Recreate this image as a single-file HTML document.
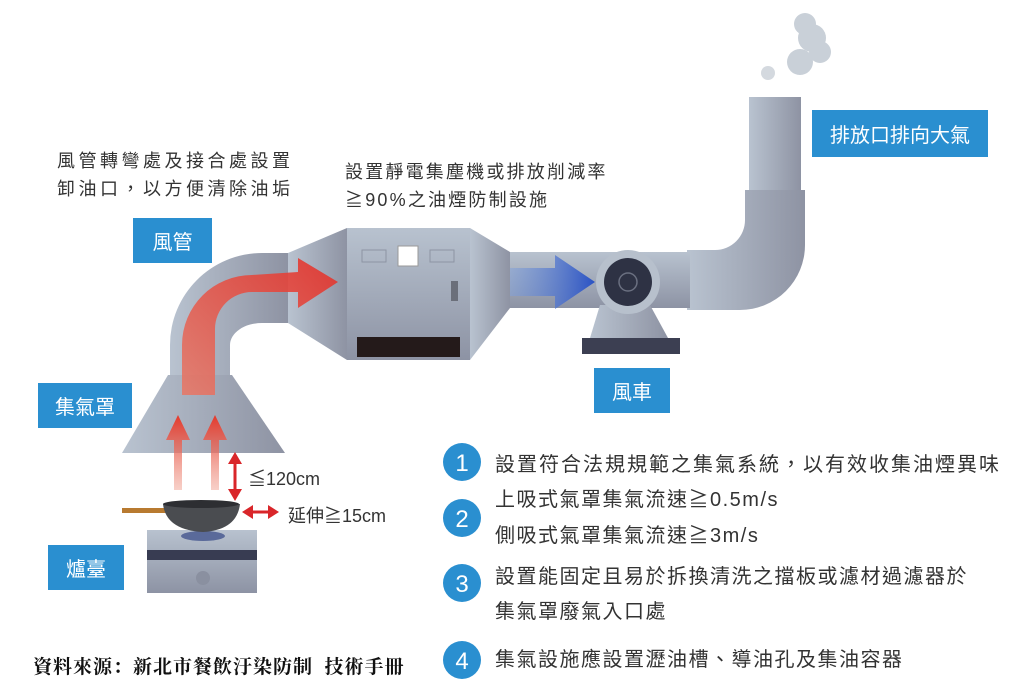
<!DOCTYPE html>
<html><head><meta charset="utf-8"><style>
body{margin:0;width:1026px;height:700px;background:#fff;overflow:hidden;font-family:"Liberation Sans","Noto Sans CJK TC",sans-serif}
svg{position:absolute;left:0;top:0}
.t{position:absolute;color:#333;white-space:nowrap}
.b{position:absolute;background:#2a8fd0;color:#fff;font-size:20px;display:flex;align-items:center;justify-content:center}
</style></head><body>
<svg width="1026" height="700" viewBox="0 0 1026 700">
<defs>
<linearGradient id="g1" x1="0" x2="1"><stop offset="0" stop-color="#b9c3d0"/><stop offset="1" stop-color="#8e93a3"/></linearGradient>
<linearGradient id="gv" x1="0" y1="0" x2="0" y2="1"><stop offset="0" stop-color="#b8c2cf"/><stop offset="1" stop-color="#8d93a4"/></linearGradient>
<linearGradient id="gb" x1="0" x2="1"><stop offset="0" stop-color="#9ab7e0" stop-opacity=".4"/><stop offset="1" stop-color="#2a52c4"/></linearGradient>
<linearGradient id="gr" x1="0" y1="1" x2="0" y2="0"><stop offset="0" stop-color="#f0a090" stop-opacity=".5"/><stop offset="1" stop-color="#e5392b"/></linearGradient>
<linearGradient id="gra" x1="0" y1="1" x2="1" y2="0"><stop offset="0" stop-color="#e57a6a"/><stop offset="1" stop-color="#e3312a"/></linearGradient>
</defs>
<g fill="#c9d0d8"><circle cx="800" cy="62" r="13"/><circle cx="812" cy="38" r="14"/><circle cx="805" cy="24" r="11"/><circle cx="820" cy="52" r="11"/><circle cx="768" cy="73" r="7" fill="#d4d9df"/></g>
<rect x="749" y="97" width="52" height="93" fill="url(#g1)"/>
<path d="M745,190 L805,190 L805,245 A65,65 0 0 1 740,310 L687,310 L687,250 L715,250 A30,30 0 0 0 745,220 Z" fill="url(#g1)"/>
<rect x="505" y="252" width="185" height="56" fill="url(#gv)"/>
<path d="M600,305 L650,305 L668,338 L590,338 Z" fill="url(#g1)"/>
<rect x="582" y="338" width="98" height="16" fill="#3c3f52"/>
<circle cx="628" cy="282" r="32" fill="#b7c0cc"/>
<circle cx="628" cy="282" r="24" fill="#2e3244"/>
<circle cx="628" cy="282" r="9" fill="none" stroke="#6a6f80" stroke-width="1.5"/>
<path d="M488,268 L555,268 L555,255 L595,282 L555,309 L555,296 L488,296 Z" fill="url(#gb)"/>
<path d="M288,253 L347,228 L347,360 L288,323 Z" fill="url(#g1)"/>
<path d="M470,228 L510,252 L510,308 L470,360 Z" fill="url(#g1)"/>
<rect x="347" y="228" width="123" height="132" fill="url(#gv)"/>
<rect x="357" y="337" width="103" height="20" fill="#241a1a"/>
<rect x="362" y="250" width="24" height="12" fill="none" stroke="#8d94a3"/>
<rect x="430" y="250" width="24" height="12" fill="none" stroke="#8d94a3"/>
<rect x="398" y="246" width="20" height="20" fill="#fff" stroke="#999"/>
<rect x="451" y="281" width="7" height="20" fill="#6b6f7a"/>
<path d="M170,378 L170,345 A92,92 0 0 1 262,253 L288,253 L288,323 L262,323 A32,22 0 0 0 230,345 L230,378 Z" fill="url(#g1)"/>
<path d="M168,375 L232,375 L285,453 L122,453 Z" fill="url(#g1)"/>
<path d="M182,395 L182,345 A70,70 0 0 1 252,275 L298,272 L298,258 L338,282 L298,308 L298,292 L252,292 A37,37 0 0 0 215,329 L215,395 Z" fill="url(#gra)" opacity=".9"/>
<g fill="url(#gr)"><path d="M174,490 L174,440 L166,440 L178,415 L190,440 L182,440 L182,490Z"/><path d="M211,490 L211,440 L203,440 L215,415 L227,440 L219,440 L219,490Z"/></g>
<g stroke="#d9262a" stroke-width="3" fill="#d9262a"><line x1="235" y1="462" x2="235" y2="490"/><line x1="252" y1="512" x2="270" y2="512"/></g>
<g fill="#d9262a"><path d="M228,464 L235,452 L242,464Z"/><path d="M228,489 L235,501 L242,489Z"/><path d="M253,505 L242,512 L253,519Z"/><path d="M268,505 L279,512 L268,519Z"/></g>
<rect x="147" y="530" width="110" height="63" fill="url(#gv)"/>
<rect x="147" y="550" width="110" height="10" fill="#383c52"/>
<ellipse cx="203" cy="536" rx="22" ry="5" fill="#5a6a9a"/>
<circle cx="203" cy="578" r="7" fill="#8a90a0"/>
<rect x="122" y="508" width="45" height="5" fill="#b87a30"/>
<path d="M163,504 L240,504 Q237,530 203,532 Q166,530 163,504Z" fill="#4a4c50"/>
<ellipse cx="201" cy="504" rx="38" ry="4" fill="#2d2e32"/>
<g fill="#2a8fd0"><circle cx="462" cy="462" r="19"/><circle cx="462" cy="518" r="19"/><circle cx="462" cy="583" r="19"/><circle cx="462" cy="660" r="19"/></g>
<g fill="#fff" font-size="24" text-anchor="middle" font-family="Liberation Sans"><text x="462" y="471">1</text><text x="462" y="527">2</text><text x="462" y="592">3</text><text x="462" y="669">4</text></g>
</svg>
<div class="t" style="left:57px;top:147px;font-size:18px;letter-spacing:3.5px;line-height:28px">風管轉彎處及接合處設置<br>卸油口，以方便清除油垢</div>
<div class="t" style="left:345px;top:158px;font-size:18px;letter-spacing:2.2px;line-height:28px">設置靜電集塵機或排放削減率<br>≧90%之油煙防制設施</div>
<div class="b" style="left:133px;top:218px;width:79px;height:45px">風管</div>
<div class="b" style="left:38px;top:383px;width:94px;height:45px">集氣罩</div>
<div class="b" style="left:48px;top:545px;width:76px;height:45px">爐臺</div>
<div class="b" style="left:594px;top:368px;width:76px;height:45px">風車</div>
<div class="b" style="left:812px;top:110px;width:176px;height:47px">排放口排向大氣</div>
<div class="t" style="left:248px;top:465px;font-size:18px">≦120cm</div>
<div class="t" style="left:288px;top:502px;font-size:18px">延伸≧15cm</div>
<div class="t" style="left:495px;top:447px;font-size:20px;letter-spacing:2px;line-height:36px">設置符合法規規範之集氣系統，以有效收集油煙異味</div>
<div class="t" style="left:495px;top:482px;font-size:20px;letter-spacing:1.5px;line-height:36px">上吸式氣罩集氣流速≧0.5m/s<br>側吸式氣罩集氣流速≧3m/s</div>
<div class="t" style="left:495px;top:560px;font-size:20px;letter-spacing:1.5px;line-height:35px">設置能固定且易於拆換清洗之擋板或濾材過濾器於<br>集氣罩廢氣入口處</div>
<div class="t" style="left:495px;top:642px;font-size:20px;letter-spacing:1.5px;line-height:36px">集氣設施應設置瀝油槽、導油孔及集油容器</div>
<div class="t" style="left:33px;top:652px;font-size:19px;letter-spacing:1px;font-weight:bold;color:#111;font-family:'Liberation Serif','Noto Serif CJK SC',serif">資料來源：新北市餐飲汙染防制&nbsp; 技術手冊</div>
</body></html>
